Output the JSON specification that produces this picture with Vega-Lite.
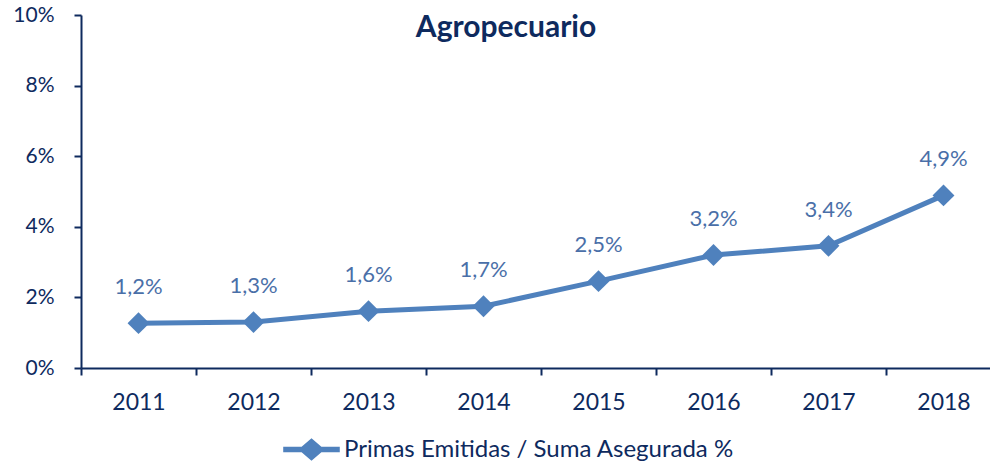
{
  "$schema": "https://vega.github.io/schema/vega-lite/v6.json",
  "autosize": "none",
  "width": 920,
  "height": 353,
  "padding": {"left": 81, "top": 15, "right": 0, "bottom": 99},
  "background": "white",
  "config": {"view": {"stroke": null}, "font": "Lato"},
  "title": {
    "text": "Agropecuario",
    "fontSize": 30,
    "fontWeight": "bold",
    "color": "#0E2A5E",
    "anchor": "middle",
    "dx": -35,
    "offset": -39,
    "font": "Lato"
  },
  "data": {
    "values": [
      {"year": "2011", "value": 0.0127, "label": "1,2%", "series": "Primas Emitidas / Suma Asegurada %"},
      {"year": "2012", "value": 0.0130, "label": "1,3%", "series": "Primas Emitidas / Suma Asegurada %"},
      {"year": "2013", "value": 0.0161, "label": "1,6%", "series": "Primas Emitidas / Suma Asegurada %"},
      {"year": "2014", "value": 0.0175, "label": "1,7%", "series": "Primas Emitidas / Suma Asegurada %"},
      {"year": "2015", "value": 0.0246, "label": "2,5%", "series": "Primas Emitidas / Suma Asegurada %"},
      {"year": "2016", "value": 0.0320, "label": "3,2%", "series": "Primas Emitidas / Suma Asegurada %"},
      {"year": "2017", "value": 0.0346, "label": "3,4%", "series": "Primas Emitidas / Suma Asegurada %"},
      {"year": "2018", "value": 0.0489, "label": "4,9%", "series": "Primas Emitidas / Suma Asegurada %"}
    ]
  },
  "encoding": {
    "x": {
      "field": "year",
      "type": "ordinal",
      "scale": {"type": "band", "paddingInner": 0, "paddingOuter": 0},
      "axis": {
        "title": null,
        "labelAngle": 0,
        "tickBand": "extent",
        "domainColor": "#0E2A5E",
        "domainWidth": 2,
        "tickColor": "#0E2A5E",
        "tickWidth": 2,
        "tickSize": 7,
        "labelFontSize": 23,
        "labelColor": "#0E2A5E",
        "labelPadding": 16,
        "labelFont": "Lato"
      }
    },
    "y": {
      "field": "value",
      "type": "quantitative",
      "scale": {"domain": [0, 0.1], "nice": false},
      "axis": {
        "title": null,
        "format": ".0%",
        "values": [0, 0.02, 0.04, 0.06, 0.08, 0.1],
        "grid": false,
        "domainColor": "#0E2A5E",
        "domainWidth": 2,
        "tickColor": "#0E2A5E",
        "tickWidth": 2,
        "tickSize": 7,
        "labelFontSize": 21,
        "labelColor": "#0E2A5E",
        "labelPadding": 20,
        "labelFont": "Lato"
      }
    }
  },
  "layer": [
    {
      "mark": {"type": "line", "strokeWidth": 5, "point": {"shape": "diamond", "size": 480, "filled": true, "color": "#4F81BD", "opacity": 1}},
      "encoding": {
        "color": {
          "field": "series",
          "type": "nominal",
          "scale": {"range": ["#4F81BD"]},
          "legend": {
            "title": null,
            "orient": "none",
            "legendX": 202,
            "legendY": 406,
            "symbolType": "M-1,-0.1L-0.35,-0.1L0,-0.4L0.35,-0.1L1,-0.1L1,0.1L0.35,0.1L0,0.4L-0.35,0.1L-1,0.1Z",
            "symbolSize": 3200,
            "symbolStrokeWidth": 0,
            "symbolFillColor": "#4F81BD",
            "symbolStrokeColor": "#4F81BD",
            "labelFontSize": 24,
            "labelColor": "#0E2A5E",
            "labelFont": "Lato",
            "labelOffset": 4,
            "labelLimit": 600
          }
        }
      }
    },
    {
      "mark": {"type": "text", "dy": -36, "fontSize": 22, "color": "#4A6FA8", "font": "Lato"},
      "encoding": {"text": {"field": "label"}}
    }
  ]
}
